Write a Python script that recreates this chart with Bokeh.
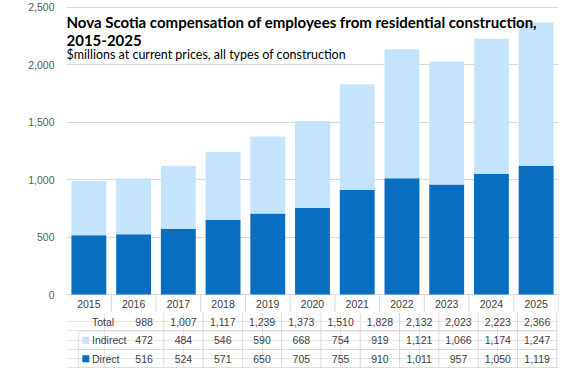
from bokeh.plotting import figure
from bokeh.layouts import column
from bokeh.models import Range1d, FixedTicker, NumeralTickFormatter, Label, ColumnDataSource
from bokeh.embed import file_html
from bokeh.resources import INLINE
from bokeh.core.properties import value

# ---- data ----
years = [2015, 2016, 2017, 2018, 2019, 2020, 2021, 2022, 2023, 2024, 2025]
direct = [516, 524, 571, 650, 705, 755, 910, 1011, 957, 1050, 1119]
indirect = [472, 484, 546, 590, 668, 754, 919, 1121, 1066, 1174, 1247]
total = [988, 1007, 1117, 1239, 1373, 1510, 1828, 2132, 2023, 2223, 2366]
y_ticks = [0, 500, 1000, 1500, 2000, 2500]
row_names = ["Total", "Indirect", "Direct"]
title_line1 = "Nova Scotia compensation of employees from residential construction,"
title_line2 = "2015-2025"
subtitle = "$millions at current prices, all types of construction"

# ---- style / layout ----
DIRECT_C = "#0A6EC0"
INDIRECT_C = "#C3E4FC"
GRID_C = "#D9D9D9"
TEXT_C = "#404040"
TICK_C = "#595959"
FONT = "Liberation Sans"
TITLE_FONT = "Lato"

W = 560
H_CHART = 312
H_TABLE = 56
LEFT = 66
RIGHT = 2
ZERO_PX = 294      # pixel row of value 0 inside the chart figure
TOP_PX = 6.5       # pixel row of the top tick
cat_w = (W - LEFT - RIGHT) / len(years)
px_per_unit = (ZERO_PX - TOP_PX) / y_ticks[-1]
y_top = y_ticks[-1] + TOP_PX / px_per_unit
y_bot = -(H_CHART - ZERO_PX) / px_per_unit
x0 = years[0] - 0.5
x1 = years[-1] + 0.5

src = ColumnDataSource(dict(year=years, direct=direct, indirect=indirect))

p = figure(width=W, height=H_CHART, x_range=Range1d(x0, x1), y_range=Range1d(y_bot, y_top),
           output_backend="svg", toolbar_location=None, x_axis_location=None,
           min_border_left=LEFT, min_border_right=RIGHT, min_border_top=0, min_border_bottom=0)
p.outline_line_color = None
p.background_fill_color = "white"
p.border_fill_color = "white"
p.xgrid.visible = False
p.yaxis.ticker = FixedTicker(ticks=y_ticks)
p.yaxis.formatter = NumeralTickFormatter(format="0,0")
p.yaxis.axis_line_color = None
p.yaxis.major_tick_line_color = None
p.yaxis.minor_tick_line_color = None
p.yaxis.major_tick_out = 0
p.yaxis.major_tick_in = 0
p.yaxis.major_label_standoff = 12
p.yaxis.major_label_text_font = FONT
p.yaxis.major_label_text_font_size = "10.5px"
p.yaxis.major_label_text_color = TICK_C
p.ygrid.grid_line_color = GRID_C
p.ygrid.grid_line_width = 1

p.vbar_stack(["direct", "indirect"], x="year", width=0.78, source=src,
             fill_color=[DIRECT_C, INDIRECT_C], line_color=None)

def yd(px):
    # pixel row in chart figure -> data value
    return (ZERO_PX - px) / px_per_unit

p.add_layout(Label(x=x0, y=yd(21), text=title_line1, text_font=TITLE_FONT, text_font_style="bold",
                   text_font_size="15px", text_color="black", text_baseline="alphabetic"))
p.add_layout(Label(x=x0, y=yd(40), text=title_line2, text_font=TITLE_FONT, text_font_style="bold",
                   text_font_size="15px", text_color="black", text_baseline="alphabetic"))
p.add_layout(Label(x=x0, y=yd(54), text=subtitle, text_font=TITLE_FONT,
                   text_font_size="12.5px", text_color="black", text_baseline="alphabetic"))

# column separators (between year columns and at the right edge)
bounds = [y + 0.5 for y in years]
p.segment(x0=bounds, y0=[0] * len(bounds), x1=bounds, y1=[y_bot] * len(bounds),
          line_color=GRID_C, line_width=1)
p.text(x=years, y=[yd((ZERO_PX + H_CHART) / 2)] * len(years), text=[str(y) for y in years],
       text_align="center", text_baseline="middle",
       text_font=value(FONT), text_font_size="10.5px", text_color=TEXT_C)

# ---- data table ----
tx0 = x0 - LEFT / cat_w
tx1 = x1 + RIGHT / cat_w
x_border = x0 - 52 / cat_w
x_label = x0 - 37 / cat_w
x_square = x0 - 44 / cat_w

t = figure(width=W, height=H_TABLE, x_range=Range1d(tx0, tx1), y_range=Range1d(3.03, 0),
           output_backend="svg", toolbar_location=None, x_axis_location=None, y_axis_location=None,
           min_border_left=0, min_border_right=0, min_border_top=0, min_border_bottom=0)
t.outline_line_color = None
t.background_fill_color = "white"
t.border_fill_color = "white"

t.segment(x0=bounds, y0=[0] * len(bounds), x1=bounds, y1=[3] * len(bounds),
          line_color=GRID_C, line_width=1)
t.segment(x0=[x_border] * 3, y0=[1, 2, 3], x1=[x1] * 3, y1=[1, 2, 3], line_color=GRID_C, line_width=1)
t.segment(x0=[x_border], y0=[1], x1=[x_border], y1=[3], line_color=GRID_C, line_width=1)

rows = [[f"{v:,}" for v in total],
        [f"{v:,}" for v in indirect],
        [f"{v:,}" for v in direct]]
tx, ty, tt = [], [], []
for r, vals in enumerate(rows):
    for yr, s in zip(years, vals):
        tx.append(yr)
        ty.append(r + 0.5)
        tt.append(s)
t.text(x=tx, y=ty, text=tt, text_align="center", text_baseline="middle",
       text_font=value(FONT), text_font_size="10.5px", text_color=TEXT_C)
t.text(x=[x_label] * 3, y=[0.5, 1.5, 2.5], text=row_names, text_align="left", text_baseline="middle",
       text_font=value(FONT), text_font_size="10.5px", text_color=TEXT_C)
t.scatter(x=[x_square] * 2, y=[1.5, 2.5], marker="square", size=7,
          fill_color=[INDIRECT_C, DIRECT_C], line_color=None)

layout = column(p, t, spacing=0)
open("out.html", "w").write(file_html(layout, INLINE))
